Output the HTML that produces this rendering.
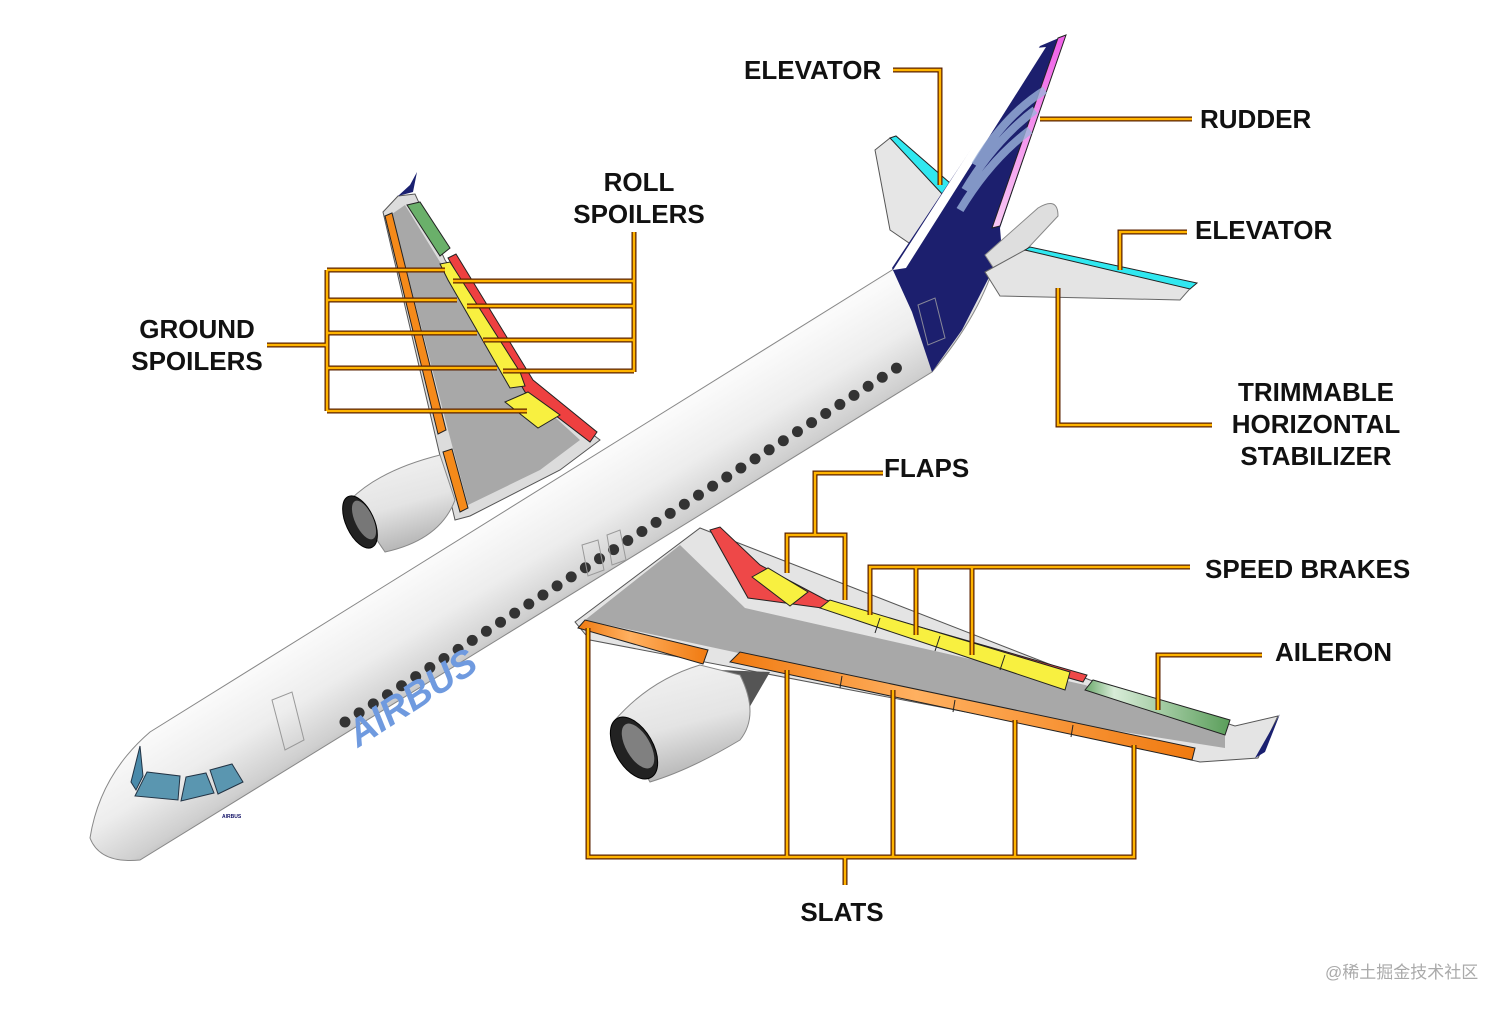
<!DOCTYPE html>
<html><head><meta charset="utf-8"><style>
html,body{margin:0;padding:0;background:#fff;}
svg{display:block}
text{font-family:"Liberation Sans",Arial,sans-serif;font-weight:bold;fill:#111;}
</style></head><body>
<svg width="1512" height="1009" viewBox="0 0 1512 1009" xmlns="http://www.w3.org/2000/svg">
<defs>
<linearGradient id="fus" gradientUnits="userSpaceOnUse" x1="470" y1="470" x2="565" y2="625">
<stop offset="0" stop-color="#d8d8d8"/><stop offset="0.3" stop-color="#fbfbfb"/><stop offset="0.6" stop-color="#ededed"/><stop offset="0.85" stop-color="#cfcfcf"/><stop offset="1" stop-color="#a8a8a8"/></linearGradient>
<linearGradient id="eng" x1="0" y1="0" x2="0.3" y2="1">
<stop offset="0" stop-color="#f4f4f4"/><stop offset="0.6" stop-color="#e4e4e4"/><stop offset="1" stop-color="#b8b8b8"/></linearGradient>
<linearGradient id="org" x1="0" y1="0" x2="1" y2="0">
<stop offset="0" stop-color="#f07a10"/><stop offset="0.4" stop-color="#ffb060"/><stop offset="1" stop-color="#f07a10"/></linearGradient>
<linearGradient id="rud" x1="0" y1="0" x2="0" y2="1">
<stop offset="0" stop-color="#f060e8"/><stop offset="1" stop-color="#f8c8f4"/></linearGradient>
<linearGradient id="grn" x1="0" y1="0" x2="1" y2="0">
<stop offset="0" stop-color="#6aa86a"/><stop offset="0.2" stop-color="#d8ecd8"/><stop offset="1" stop-color="#5a9e5a"/></linearGradient>
</defs>

<!-- far horizontal stabilizer -->
<polygon points="875,150 890,138 948,188 912,245 890,230" fill="#e6e6e6" stroke="#555" stroke-width="1"/>
<polygon points="890,138 896,136 950,183 944,196" fill="#30e8f0" stroke="#222" stroke-width="1"/>

<!-- far wing -->
<polygon points="383,212 398,196 415,194 445,260 528,385 600,440 560,470 470,516 455,520" fill="#dcdcdc" stroke="#555" stroke-width="1"/>
<polygon points="392,214 405,205 440,262 523,388 580,440 540,470 468,505 448,430" fill="#a8a8a8"/>
<polygon points="407,205 420,202 450,248 440,256" fill="#6ab06a" stroke="#222" stroke-width="1"/>
<polygon points="448,258 456,254 533,380 597,432 590,442 525,392" fill="#ee4040" stroke="#222" stroke-width="1"/>
<polygon points="440,264 450,262 520,372 525,386 510,388 448,280" fill="#f8f040" stroke="#222" stroke-width="1"/>
<polygon points="505,402 528,392 560,415 538,428" fill="#f8f040" stroke="#222" stroke-width="1"/>
<polygon points="385,216 392,213 446,430 438,434" fill="#f58a1a" stroke="#222" stroke-width="1"/>
<polygon points="443,452 452,449 468,508 460,512" fill="#f58a1a" stroke="#222" stroke-width="1"/>
<polygon points="398,196 410,185 417,172 413,192" fill="#1a2070"/>

<!-- far engine -->
<path d="M350,500 Q380,470 440,455 L455,500 Q440,540 385,552 Z" fill="url(#eng)" stroke="#888" stroke-width="1"/>
<ellipse cx="360" cy="522" rx="14" ry="28" transform="rotate(-25 360 522)" fill="#222" stroke="#000"/>
<ellipse cx="364" cy="520" rx="9" ry="21" transform="rotate(-25 364 520)" fill="#777"/>

<!-- near wing (behind fuselage) -->
<polygon points="575,622 700,528 1090,680 1235,726 1278,716 1258,758 1200,762 1060,730 590,640" fill="#e4e4e4" stroke="#555" stroke-width="1"/>
<polygon points="585,620 680,545 745,608 1085,685 1225,735 1225,748 1060,722" fill="#a8a8a8"/>
<polygon points="710,530 720,527 760,565 826,600 1087,675 1083,682 822,608 748,598" fill="#ee4848" stroke="#222" stroke-width="1"/>
<polygon points="752,577 768,568 808,592 790,606" fill="#f8f040" stroke="#222" stroke-width="1"/>
<polygon points="820,608 830,600 1070,672 1065,690" fill="#f8f040" stroke="#222" stroke-width="1"/>
<line x1="880" y1="618" x2="875" y2="633" stroke="#222"/><line x1="940" y1="636" x2="935" y2="651" stroke="#222"/><line x1="1005" y1="655" x2="1000" y2="670" stroke="#222"/>
<polygon points="1085,690 1093,680 1230,720 1225,735" fill="url(#grn)" stroke="#222" stroke-width="1"/>
<polygon points="578,628 585,620 708,650 703,664" fill="url(#org)" stroke="#222" stroke-width="1"/>
<polygon points="730,662 740,652 1195,748 1192,760" fill="url(#org)" stroke="#222" stroke-width="1"/>
<line x1="842" y1="676" x2="840" y2="688" stroke="#222"/><line x1="955" y1="700" x2="953" y2="712" stroke="#222"/><line x1="1073" y1="725" x2="1071" y2="737" stroke="#222"/>
<path d="M1255,758 L1280,714 L1265,752 Z" fill="#1a2070"/>

<!-- fuselage -->
<path d="M905,262 L150,732 Q100,775 90,838 Q100,864 140,860 L932,372 Q985,310 1000,245 Z" fill="url(#fus)" stroke="#888" stroke-width="1"/>
<!-- tail navy -->
<path d="M892,268 L1040,46 L1066,35 L1000,228 L1002,252 L962,330 L932,372 L912,312 Z" fill="#1c1f6e"/>
<path d="M893,270 L1036,48 L1046,47 L906,268 Z" fill="#fff"/>
<path d="M1058,38 L1066,35 L1000,226 L992,228 Z" fill="url(#rud)" stroke="#222" stroke-width="1"/>
<path d="M960,210 Q990,160 1030,130 M965,190 Q995,140 1035,110 M975,165 Q1005,115 1045,90" stroke="#9cb4dc" stroke-width="8" fill="none" opacity="0.8"/>
<!-- APU cone -->
<path d="M985,255 L1038,208 Q1058,196 1058,216 L1000,278 Z" fill="#dedede" stroke="#888" stroke-width="1"/>
<!-- near stabilizer -->
<polygon points="985,272 1025,250 1195,283 1180,300 1000,296" fill="#e4e4e4" stroke="#666" stroke-width="1"/>
<polygon points="1025,250 1030,247 1197,283 1190,289" fill="#30e8f0" stroke="#222" stroke-width="1"/>

<!-- windows -->
<line x1="345" y1="722" x2="906" y2="362" stroke="#333" stroke-width="11" stroke-linecap="round" stroke-dasharray="0 16.8"/>
<text x="0" y="0" transform="translate(358,748) rotate(-33)" style="font-size:38px;fill:#6f9adf;font-style:italic">AIRBUS</text>
<!-- doors -->
<path d="M272,700 L292,692 L304,740 L285,750 Z" fill="none" stroke="#999"/>
<path d="M582,545 L598,540 L604,570 L588,576 Z" fill="none" stroke="#999"/>
<path d="M607,535 L620,530 L626,560 L612,565 Z" fill="none" stroke="#999"/>
<path d="M918,305 L935,298 L945,338 L928,345 Z" fill="none" stroke="#889"/>
<!-- cockpit -->
<polygon points="131,782 140,746 143,776 136,790" fill="#4a8aaa" stroke="#234" stroke-width="1"/>
<polygon points="147,772 180,776 178,800 135,796" fill="#5a96b0" stroke="#234" stroke-width="1"/>
<polygon points="186,777 206,773 214,793 181,801" fill="#5a96b0" stroke="#234" stroke-width="1"/>
<polygon points="210,770 232,764 243,782 218,794" fill="#5a96b0" stroke="#234" stroke-width="1"/>
<text x="222" y="818" style="font-size:5px;fill:#116">AIRBUS</text>

<!-- near engine -->
<path d="M720,670 L770,672 L745,715 L715,700 Z" fill="#555"/>
<path d="M615,720 Q650,680 700,665 L740,675 Q760,715 740,740 Q690,770 650,782 Z" fill="url(#eng)" stroke="#888" stroke-width="1"/>
<ellipse cx="634" cy="748" rx="19" ry="34" transform="rotate(-30 634 748)" fill="#222" stroke="#000"/>
<ellipse cx="638" cy="746" rx="12" ry="25" transform="rotate(-30 638 746)" fill="#808080"/>

<!-- leader lines -->
<g fill="none" stroke-linejoin="miter">
<g stroke="#5a2000" stroke-width="5">
<polyline points="893,70 940,70 940,185"/>
<polyline points="1040,119 1192,119"/>
<polyline points="1120,270 1120,232 1187,232"/>
<polyline points="1058,288 1058,425 1212,425"/>
<polyline points="634,232 634,372"/>
<line x1="453" y1="281" x2="634" y2="281"/><line x1="467" y1="306" x2="634" y2="306"/><line x1="483" y1="340" x2="634" y2="340"/><line x1="503" y1="371" x2="634" y2="371"/>
<polyline points="327,270 327,411"/><line x1="267" y1="345" x2="327" y2="345"/>
<line x1="327" y1="270" x2="445" y2="270"/><line x1="327" y1="300" x2="457" y2="300"/><line x1="327" y1="333" x2="477" y2="333"/><line x1="327" y1="368" x2="497" y2="368"/><line x1="327" y1="411" x2="527" y2="411"/>
<polyline points="883,473 815,473 815,535"/>
<polyline points="787,573 787,535 845,535 845,600"/>
<polyline points="1190,567 870,567 870,615"/><line x1="916" y1="567" x2="916" y2="635"/><line x1="972" y1="567" x2="972" y2="655"/>
<polyline points="1262,655 1158,655 1158,710"/>
<polyline points="588,628 588,857 1134,857 1134,745"/>
<line x1="787" y1="670" x2="787" y2="857"/><line x1="893" y1="690" x2="893" y2="857"/><line x1="1015" y1="720" x2="1015" y2="857"/><line x1="845" y1="857" x2="845" y2="885"/>
</g>
<g stroke="#ffb400" stroke-width="2.5">
<polyline points="893,70 940,70 940,185"/>
<polyline points="1040,119 1192,119"/>
<polyline points="1120,270 1120,232 1187,232"/>
<polyline points="1058,288 1058,425 1212,425"/>
<polyline points="634,232 634,372"/>
<line x1="453" y1="281" x2="634" y2="281"/><line x1="467" y1="306" x2="634" y2="306"/><line x1="483" y1="340" x2="634" y2="340"/><line x1="503" y1="371" x2="634" y2="371"/>
<polyline points="327,270 327,411"/><line x1="267" y1="345" x2="327" y2="345"/>
<line x1="327" y1="270" x2="445" y2="270"/><line x1="327" y1="300" x2="457" y2="300"/><line x1="327" y1="333" x2="477" y2="333"/><line x1="327" y1="368" x2="497" y2="368"/><line x1="327" y1="411" x2="527" y2="411"/>
<polyline points="883,473 815,473 815,535"/>
<polyline points="787,573 787,535 845,535 845,600"/>
<polyline points="1190,567 870,567 870,615"/><line x1="916" y1="567" x2="916" y2="635"/><line x1="972" y1="567" x2="972" y2="655"/>
<polyline points="1262,655 1158,655 1158,710"/>
<polyline points="588,628 588,857 1134,857 1134,745"/>
<line x1="787" y1="670" x2="787" y2="857"/><line x1="893" y1="690" x2="893" y2="857"/><line x1="1015" y1="720" x2="1015" y2="857"/><line x1="845" y1="857" x2="845" y2="885"/>
</g>
</g>

<!-- labels -->
<g style="font-size:26px">
<text x="744" y="79">ELEVATOR</text>
<text x="1200" y="128">RUDDER</text>
<text x="1195" y="239">ELEVATOR</text>
<text x="1316" y="401" text-anchor="middle">TRIMMABLE</text>
<text x="1316" y="433" text-anchor="middle">HORIZONTAL</text>
<text x="1316" y="465" text-anchor="middle">STABILIZER</text>
<text x="639" y="191" text-anchor="middle">ROLL</text>
<text x="639" y="223" text-anchor="middle">SPOILERS</text>
<text x="197" y="338" text-anchor="middle">GROUND</text>
<text x="197" y="370" text-anchor="middle">SPOILERS</text>
<text x="884" y="477">FLAPS</text>
<text x="1205" y="578">SPEED BRAKES</text>
<text x="1275" y="661">AILERON</text>
<text x="842" y="921" text-anchor="middle">SLATS</text>
</g>
<text x="1325" y="978" style="font-size:17px;font-weight:normal;fill:#aaa;font-family:'Liberation Sans','Noto Sans CJK SC',sans-serif">@稀土掘金技术社区</text>
</svg>
</body></html>
